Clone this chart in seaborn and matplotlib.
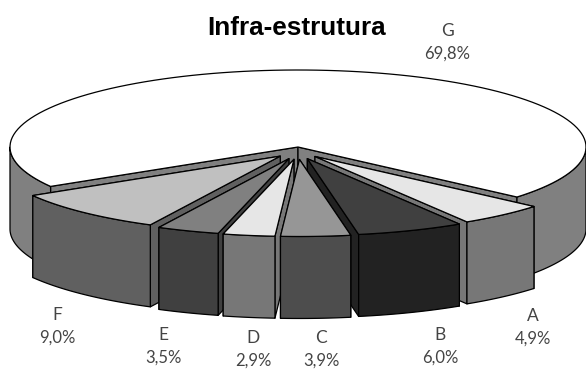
import numpy as np
import matplotlib
matplotlib.use("Agg")
import matplotlib.pyplot as plt
from matplotlib.patches import Polygon
import seaborn as sns

categories = ["A", "B", "C", "D", "E", "F", "G"]
values = [4.9, 6.0, 3.9, 2.9, 3.5, 9.0, 69.8]
value_labels = ["4,9%", "6,0%", "3,9%", "2,9%", "3,5%", "9,0%", "69,8%"]
top_colors = ["#e6e6e6", "#404040", "#969696", "#e6e6e6", "#808080", "#c0c0c0", "#ffffff"]
side_colors = ["#777777", "#222222", "#4d4d4d", "#777777", "#404040", "#606060", "#808080"]
label_xy = {"A": (533, 316), "B": (440, 335), "C": (321, 338), "D": (253, 338),
            "E": (163, 335), "F": (57, 315), "G": (447, 31)}

sns.set_theme(style="white")
plt.rcParams["font.family"] = ["Lato", "DejaVu Sans"]

CX, CY, RX, RY, DEPTH = 298, 147, 288, 77, 82
EX, EY = 26, 12.5
START = -40.5

fig = plt.figure(figsize=(5.86, 3.69), dpi=100)
ax = fig.add_axes([0, 0, 1, 1])
ax.set_xlim(0, 586)
ax.set_ylim(369, 0)
ax.axis("off")


def rim(t0, t1, dx=0.0, dy=0.0, drop=0.0):
    t = np.radians(np.linspace(t0, t1, 120))
    return np.column_stack([CX + dx + RX * np.cos(t), CY + dy - RY * np.sin(t) + drop])


def poly(pts, color, z):
    ax.add_patch(Polygon(pts, closed=True, facecolor=color, edgecolor="black",
                         linewidth=0.9, joinstyle="round", zorder=z))


# angles from values, clockwise
sweeps = np.array(values) / sum(values) * 360
ends = START - np.cumsum(sweeps)
starts = np.r_[START, ends[:-1]]

# big slice G, not exploded; its visible wall runs from its two cut edges to the sides
left_edge = starts[-1]
gz = 1
for edge in (left_edge, START):
    o = rim(edge, edge)[0]
    poly([[CX, CY], o, o + [0, DEPTH], [CX, CY + DEPTH]], side_colors[-1], gz)
poly(np.vstack([rim(-180, left_edge), rim(left_edge, -180, drop=DEPTH)]), side_colors[-1], gz)
poly(np.vstack([rim(START, 0), rim(0, START, drop=DEPTH)]), side_colors[-1], gz)
poly(np.vstack([[[CX, CY]], rim(left_edge, ends[-1])]), top_colors[-1], gz + 0.5)

# exploded slices, painter's order: outside towards the front-centre
order = ["A", "F", "B", "E", "D", "C"]
for z, name in enumerate(order, start=2):
    i = categories.index(name)
    hi, lo = starts[i], ends[i]
    mid = np.radians((hi + lo) / 2)
    dx, dy = EX * np.cos(mid), -EY * np.sin(mid)
    tip = np.array([CX + dx, CY + dy])
    down = np.array([0, DEPTH])
    faces = [np.array([tip, o, o + down, tip + down])
             for o in (rim(hi, hi, dx, dy)[0], rim(lo, lo, dx, dy)[0])]
    faces.sort(key=lambda f: f[:, 1].mean())
    for f in faces:
        poly(f, side_colors[i], z)
    poly(np.vstack([rim(lo, hi, dx, dy), rim(hi, lo, dx, dy, DEPTH)]), side_colors[i], z + 0.1)
    poly(np.vstack([[tip], rim(hi, lo, dx, dy)]), top_colors[i], z + 0.2)

for name, lab in zip(categories, value_labels):
    x, y = label_xy[name]
    ax.text(x, y, name, ha="center", va="center", fontsize=12.5, fontweight="normal",
            color="#444444", zorder=20)
    ax.text(x, y + 22.5, lab, ha="center", va="center", fontsize=12, fontweight="normal",
            color="#444444", zorder=20)

ax.text(297, 28, "Infra-estrutura", ha="center", va="center", fontsize=18.8,
        fontweight="bold", family="Liberation Sans", color="black", zorder=20)

fig.savefig("out.png", dpi=100, facecolor="white")
